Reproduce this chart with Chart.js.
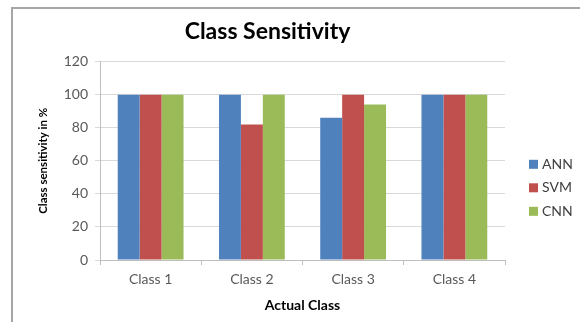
<!DOCTYPE html>
<html>
<head>
<meta charset="utf-8">
<script src="https://cdn.jsdelivr.net/npm/chart.js@4/dist/chart.umd.min.js"></script>
<style>
  html, body { margin: 0; padding: 0; background: #fff; }
  #wrap { position: relative; width: 580px; height: 322px; }
</style>
</head>
<body>
<div id="wrap"><canvas id="c" width="580" height="322"></canvas></div>
<script>
// Categories and per-classifier sensitivity (%)
const classes = ['Class 1', 'Class 2', 'Class 3', 'Class 4'];
const annValues = [100, 100, 86, 100];
const svmValues = [100, 82, 100, 100];
const cnnValues = [100, 100, 94, 100];
const seriesNames = ['ANN', 'SVM', 'CNN'];
const yTicks = [0, 20, 40, 60, 80, 100, 120];

const colors = ['#4F81BD', '#C0504D', '#9BBB59'];
const FONT = 'Lato, "Open Sans", sans-serif';

// Frame around the chart (top and left edges)
const framePlugin = {
  id: 'frame',
  beforeDraw(chart) {
    const ctx = chart.ctx;
    ctx.save();
    ctx.fillStyle = '#ffffff';
    ctx.fillRect(0, 0, chart.width, chart.height);
    ctx.strokeStyle = '#a6a6a6';
    ctx.lineWidth = 2;
    ctx.beginPath();
    ctx.moveTo(12, chart.height);
    ctx.lineTo(12, 8);
    ctx.lineTo(chart.width, 8);
    ctx.stroke();
    ctx.restore();
  }
};

// Vertical legend on the right, built from the datasets
const sideLegend = {
  id: 'sideLegend',
  afterDraw(chart) {
    const ctx = chart.ctx;
    const ds = chart.data.datasets;
    const x = chart.chartArea.right + 24;
    const midY = (chart.chartArea.top + chart.chartArea.bottom) / 2 + 27;
    const gap = 23.5;
    const startY = midY - gap * (ds.length - 1) / 2;
    ctx.save();
    ctx.font = '14px ' + FONT;
    ctx.textBaseline = 'middle';
    ds.forEach((d, i) => {
      const y = startY + i * gap;
      ctx.fillStyle = d.backgroundColor;
      ctx.fillRect(x, y - 4.5, 9, 9);
      ctx.fillStyle = '#404040';
      ctx.fillText(d.label, x + 13, y);
    });
    ctx.restore();
  }
};

new Chart(document.getElementById('c'), {
  type: 'bar',
  data: {
    labels: classes,
    datasets: [
      { label: seriesNames[0], data: annValues, backgroundColor: colors[0] },
      { label: seriesNames[1], data: svmValues, backgroundColor: colors[1] },
      { label: seriesNames[2], data: cnnValues, backgroundColor: colors[2] }
    ]
  },
  options: {
    responsive: false,
    animation: false,
    layout: { padding: { left: 30, right: 75, top: 18, bottom: 5 } },
    datasets: {
      bar: { categoryPercentage: 0.65, barPercentage: 1.0, borderWidth: 0 }
    },
    plugins: {
      legend: { display: false },
      tooltip: { enabled: false },
      title: {
        display: true,
        text: 'Class Sensitivity',
        color: '#000000',
        font: { family: FONT, size: 23, weight: 'bold', lineHeight: 1.2 },
        padding: { top: 0, bottom: 16 }
      }
    },
    scales: {
      x: {
        grid: {
          display: true,
          drawOnChartArea: false,
          drawTicks: true,
          tickLength: 5,
          color: '#bfbfbf',
          offset: true
        },
        border: { display: true, color: '#bfbfbf' },
        ticks: {
          color: '#595959',
          font: { family: FONT, size: 14 },
          padding: 6
        },
        title: {
          display: true,
          text: 'Actual Class',
          color: '#000000',
          font: { family: FONT, size: 14, weight: 'bold', lineHeight: 1.2 },
          padding: { top: 4, bottom: 3 }
        },
        afterFit(scale) { scale.height = 57; }
      },
      y: {
        min: 0,
        max: 120,
        afterBuildTicks(scale) { scale.ticks = yTicks.map(v => ({ value: v })); },
        grid: {
          color: '#d9d9d9',
          tickLength: 5,
          drawTicks: true
        },
        border: { display: true, color: '#bfbfbf' },
        ticks: {
          color: '#595959',
          font: { family: FONT, size: 14 },
          padding: 7
        },
        title: {
          display: true,
          text: 'Class sensitivity in %',
          color: '#000000',
          font: { family: FONT, size: 11.5, weight: 'bold', lineHeight: 1.2 },
          padding: { top: 6, bottom: 0 }
        },
        afterFit(scale) { scale.width = 70; }
      }
    }
  },
  plugins: [framePlugin, sideLegend]
});
</script>
</body>
</html>
